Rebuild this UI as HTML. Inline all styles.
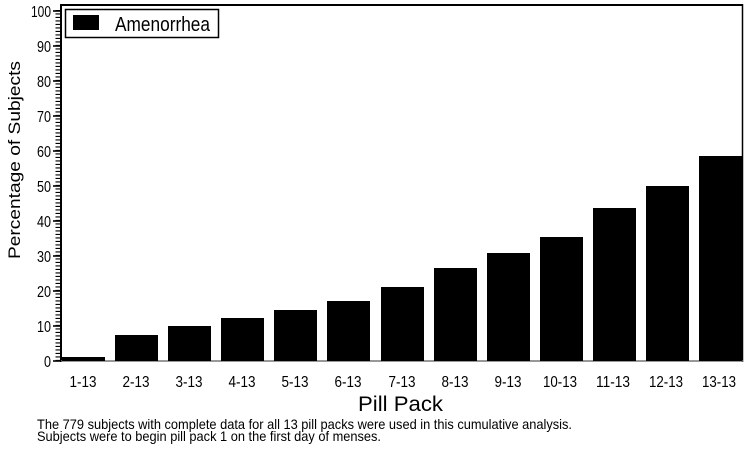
<!DOCTYPE html>
<html><head><meta charset="utf-8"><style>
html,body{margin:0;padding:0;background:#fff;}
svg{display:block;}
text{font-family:"Liberation Sans",sans-serif;fill:#000;}
</style></head><body>
<svg width="756" height="450" viewBox="0 0 756 450" xmlns="http://www.w3.org/2000/svg">
<line x1="61" y1="5" x2="743" y2="5" stroke="#000" stroke-width="2"/>
<line x1="61" y1="4" x2="61" y2="362" stroke="#000" stroke-width="2"/>
<line x1="742.5" y1="4" x2="742.5" y2="362" stroke="#000" stroke-width="1.5"/>
<line x1="61" y1="361" x2="743" y2="361" stroke="#777" stroke-width="1.5"/>
<line x1="58" y1="361" x2="58" y2="10" stroke="#000" stroke-width="5" stroke-dasharray="1.1 2.4"/>
<g stroke="#000" stroke-width="1.6">
<line x1="53" y1="361" x2="61" y2="361"/><line x1="53" y1="326" x2="61" y2="326"/>
<line x1="53" y1="291" x2="61" y2="291"/><line x1="53" y1="256" x2="61" y2="256"/>
<line x1="53" y1="221" x2="61" y2="221"/><line x1="53" y1="186" x2="61" y2="186"/>
<line x1="53" y1="151" x2="61" y2="151"/><line x1="53" y1="116" x2="61" y2="116"/>
<line x1="53" y1="81" x2="61" y2="81"/><line x1="53" y1="46" x2="61" y2="46"/>
<line x1="53" y1="11" x2="61" y2="11"/>
</g>
<g font-size="16" text-anchor="end" lengthAdjust="spacingAndGlyphs">
<text x="51" y="367" textLength="7" lengthAdjust="spacingAndGlyphs">0</text>
<text x="51" y="332" textLength="14" lengthAdjust="spacingAndGlyphs">10</text>
<text x="51" y="297" textLength="14" lengthAdjust="spacingAndGlyphs">20</text>
<text x="51" y="262" textLength="14" lengthAdjust="spacingAndGlyphs">30</text>
<text x="51" y="227" textLength="14" lengthAdjust="spacingAndGlyphs">40</text>
<text x="51" y="192" textLength="14" lengthAdjust="spacingAndGlyphs">50</text>
<text x="51" y="157" textLength="14" lengthAdjust="spacingAndGlyphs">60</text>
<text x="51" y="122" textLength="14" lengthAdjust="spacingAndGlyphs">70</text>
<text x="51" y="87" textLength="14" lengthAdjust="spacingAndGlyphs">80</text>
<text x="51" y="52" textLength="14" lengthAdjust="spacingAndGlyphs">90</text>
<text x="51" y="17" textLength="20" lengthAdjust="spacingAndGlyphs">100</text>
</g>
<text transform="translate(20,160) rotate(-90)" font-size="17" text-anchor="middle" textLength="198" lengthAdjust="spacingAndGlyphs">Percentage of Subjects</text>
<g fill="#000">
<rect x="62" y="357" width="43" height="4"/>
<rect x="115" y="335" width="43" height="26"/>
<rect x="168" y="326" width="43" height="35"/>
<rect x="221" y="318" width="43" height="43"/>
<rect x="274" y="310" width="43" height="51"/>
<rect x="327" y="301" width="43" height="60"/>
<rect x="381" y="287" width="43" height="74"/>
<rect x="434" y="268" width="43" height="93"/>
<rect x="487" y="253" width="43" height="108"/>
<rect x="540" y="237" width="43" height="124"/>
<rect x="593" y="208" width="43" height="153"/>
<rect x="646" y="186" width="43" height="175"/>
<rect x="699" y="156" width="43" height="205"/>
</g>
<g font-size="16" text-anchor="middle">
<text x="83" y="387" textLength="27" lengthAdjust="spacingAndGlyphs">1-13</text>
<text x="136" y="387" textLength="27" lengthAdjust="spacingAndGlyphs">2-13</text>
<text x="189" y="387" textLength="27" lengthAdjust="spacingAndGlyphs">3-13</text>
<text x="242" y="387" textLength="27" lengthAdjust="spacingAndGlyphs">4-13</text>
<text x="295" y="387" textLength="27" lengthAdjust="spacingAndGlyphs">5-13</text>
<text x="348" y="387" textLength="27" lengthAdjust="spacingAndGlyphs">6-13</text>
<text x="402" y="387" textLength="27" lengthAdjust="spacingAndGlyphs">7-13</text>
<text x="455" y="387" textLength="27" lengthAdjust="spacingAndGlyphs">8-13</text>
<text x="508" y="387" textLength="27" lengthAdjust="spacingAndGlyphs">9-13</text>
<text x="560" y="387" textLength="34" lengthAdjust="spacingAndGlyphs">10-13</text>
<text x="613" y="387" textLength="34" lengthAdjust="spacingAndGlyphs">11-13</text>
<text x="666" y="387" textLength="34" lengthAdjust="spacingAndGlyphs">12-13</text>
<text x="719" y="387" textLength="34" lengthAdjust="spacingAndGlyphs">13-13</text>
</g>
<text x="358" y="411" font-size="21" textLength="85" lengthAdjust="spacingAndGlyphs">Pill Pack</text>
<rect x="65.5" y="9.5" width="153" height="28" fill="#fff" stroke="#000" stroke-width="1.5"/>
<rect x="73" y="15" width="26" height="15" fill="#000"/>
<text x="115" y="31" font-size="20" textLength="95" lengthAdjust="spacingAndGlyphs">Amenorrhea</text>
<g font-size="14">
<text x="37" y="429" textLength="535" lengthAdjust="spacingAndGlyphs">The 779 subjects with complete data for all 13 pill packs were used in this cumulative analysis.</text>
<text x="37" y="441" textLength="344" lengthAdjust="spacingAndGlyphs">Subjects were to begin pill pack 1 on the first day of menses.</text>
</g>
</svg>
</body></html>
